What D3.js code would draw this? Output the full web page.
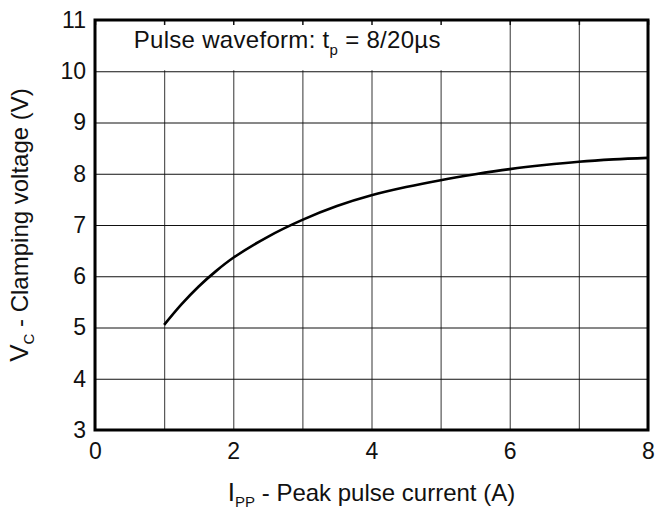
<!DOCTYPE html>
<html>
<head>
<meta charset="utf-8">
<script src="https://cdn.jsdelivr.net/npm/d3@7"></script>
<style>
  body { margin: 0; background: #fff; }
  svg { display: block; font-family: "Liberation Sans", Arial, sans-serif; }
</style>
</head>
<body>
<div id="chart"></div>
<script>
// Data
const currentA = [1, 1.25, 1.5, 1.75, 2, 2.5, 3, 3.5, 4, 4.5, 5, 5.5, 6, 6.5, 7, 7.5, 8];
const clampV = [5.05, 5.45, 5.8, 6.1, 6.36, 6.77, 7.1, 7.37, 7.58, 7.74, 7.875, 7.99, 8.09, 8.17, 8.235, 8.28, 8.31];
const xTicks = [0, 2, 4, 6, 8];
const yTicks = [3, 4, 5, 6, 7, 8, 9, 10, 11];
const xGrid = d3.range(0, 9, 1);
const yGrid = d3.range(3, 12, 1);

const points = currentA.map((d, i) => ({ x: d, y: clampV[i] }));

// Set dimensions and margins
const margin = { top: 20, right: 8, bottom: 82, left: 95 };
const width = 656 - margin.left - margin.right;
const height = 512 - margin.top - margin.bottom;

const svg = d3.select('#chart')
    .append('svg')
    .attr('width', 656)
    .attr('height', 512)
    .append('g')
    .attr('transform', `translate(${margin.left},${margin.top})`);

// Scales
const x = d3.scaleLinear().domain([0, 8]).range([0, width]);
const y = d3.scaleLinear().domain([3, 11]).range([height, 0]);

// Grid lines
svg.append('g')
    .attr('class', 'grid')
    .attr('transform', `translate(0,${height})`)
    .call(d3.axisBottom(x).tickValues(xGrid).tickSize(-height).tickFormat(''))
    .call(g => g.select('.domain').remove())
    .call(g => g.selectAll('line').attr('stroke', '#555').attr('stroke-width', 1.2));

svg.append('g')
    .attr('class', 'grid')
    .call(d3.axisLeft(y).tickValues(yGrid).tickSize(-width).tickFormat(''))
    .call(g => g.select('.domain').remove())
    .call(g => g.selectAll('line').attr('stroke', '#111').attr('stroke-width', 1));

// White box behind the annotation
svg.append('rect')
    .attr('x', x(0))
    .attr('y', y(11))
    .attr('width', x(5.5) - x(0))
    .attr('height', y(10) - y(11) - 1)
    .attr('fill', '#fff');

// Inward ticks on top border
svg.append('g')
    .call(d3.axisTop(x).tickValues(xGrid).tickSize(-5).tickFormat(''))
    .call(g => g.select('.domain').remove())
    .call(g => g.selectAll('line').attr('stroke', '#111').attr('stroke-width', 1.5));

// Annotation
const note = svg.append('text')
    .attr('x', x(0.56))
    .attr('y', y(10.46))
    .style('font-size', '24px')
    .style('letter-spacing', '0.3px')
    .attr('fill', '#111');
note.append('tspan').text('Pulse waveform: t');
note.append('tspan').attr('dy', 7).style('font-size', '15px').text('p');
note.append('tspan').attr('dy', -7).text(' = 8/20\u00b5s');

// Curve
const line = d3.line()
    .x(d => x(d.x))
    .y(d => y(d.y))
    .curve(d3.curveCatmullRom);

svg.append('path')
    .datum(points)
    .attr('fill', 'none')
    .attr('stroke', '#000')
    .attr('stroke-width', 2.6)
    .attr('d', line);

// Border
svg.append('rect')
    .attr('x', 0)
    .attr('y', 0)
    .attr('width', width)
    .attr('height', height)
    .attr('fill', 'none')
    .attr('stroke', '#000')
    .attr('stroke-width', 3);

// Tick labels
svg.append('g')
    .attr('class', 'axis x-axis')
    .attr('transform', `translate(0,${height})`)
    .call(d3.axisBottom(x).tickValues(xTicks).tickSize(0).tickPadding(13).tickFormat(d3.format('d')))
    .call(g => g.select('.domain').remove())
    .call(g => g.selectAll('text').style('font-size', '23px').attr('fill', '#111')
        .style('font-family', '"Liberation Sans", Arial, sans-serif'));

svg.append('g')
    .attr('class', 'axis y-axis')
    .call(d3.axisLeft(y).tickValues(yTicks).tickSize(0).tickPadding(9).tickFormat(d3.format('d')))
    .call(g => g.select('.domain').remove())
    .call(g => g.selectAll('text').style('font-size', '23px').attr('fill', '#111')
        .style('font-family', '"Liberation Sans", Arial, sans-serif'));

// X axis label
const xLabel = svg.append('text')
    .attr('x', width / 2)
    .attr('y', height + 71)
    .attr('text-anchor', 'middle')
    .style('font-size', '24px')
    .attr('fill', '#111');
xLabel.append('tspan').style('font-size', '26px').text('I');
xLabel.append('tspan').attr('dy', 6).style('font-size', '15px').text('PP');
xLabel.append('tspan').attr('dy', -6).text(' - Peak pulse current (A)');

// Y axis label
const yLabel = svg.append('text')
    .attr('transform', `translate(${-margin.left + 28},${height / 2}) rotate(-90)`)
    .attr('text-anchor', 'middle')
    .style('font-size', '24px')
    .attr('fill', '#111');
yLabel.append('tspan').style('font-size', '26px').text('V');
yLabel.append('tspan').attr('dy', 6).style('font-size', '15px').text('C');
yLabel.append('tspan').attr('dy', -6).text(' - Clamping voltage (V)');
</script>
</body>
</html>
